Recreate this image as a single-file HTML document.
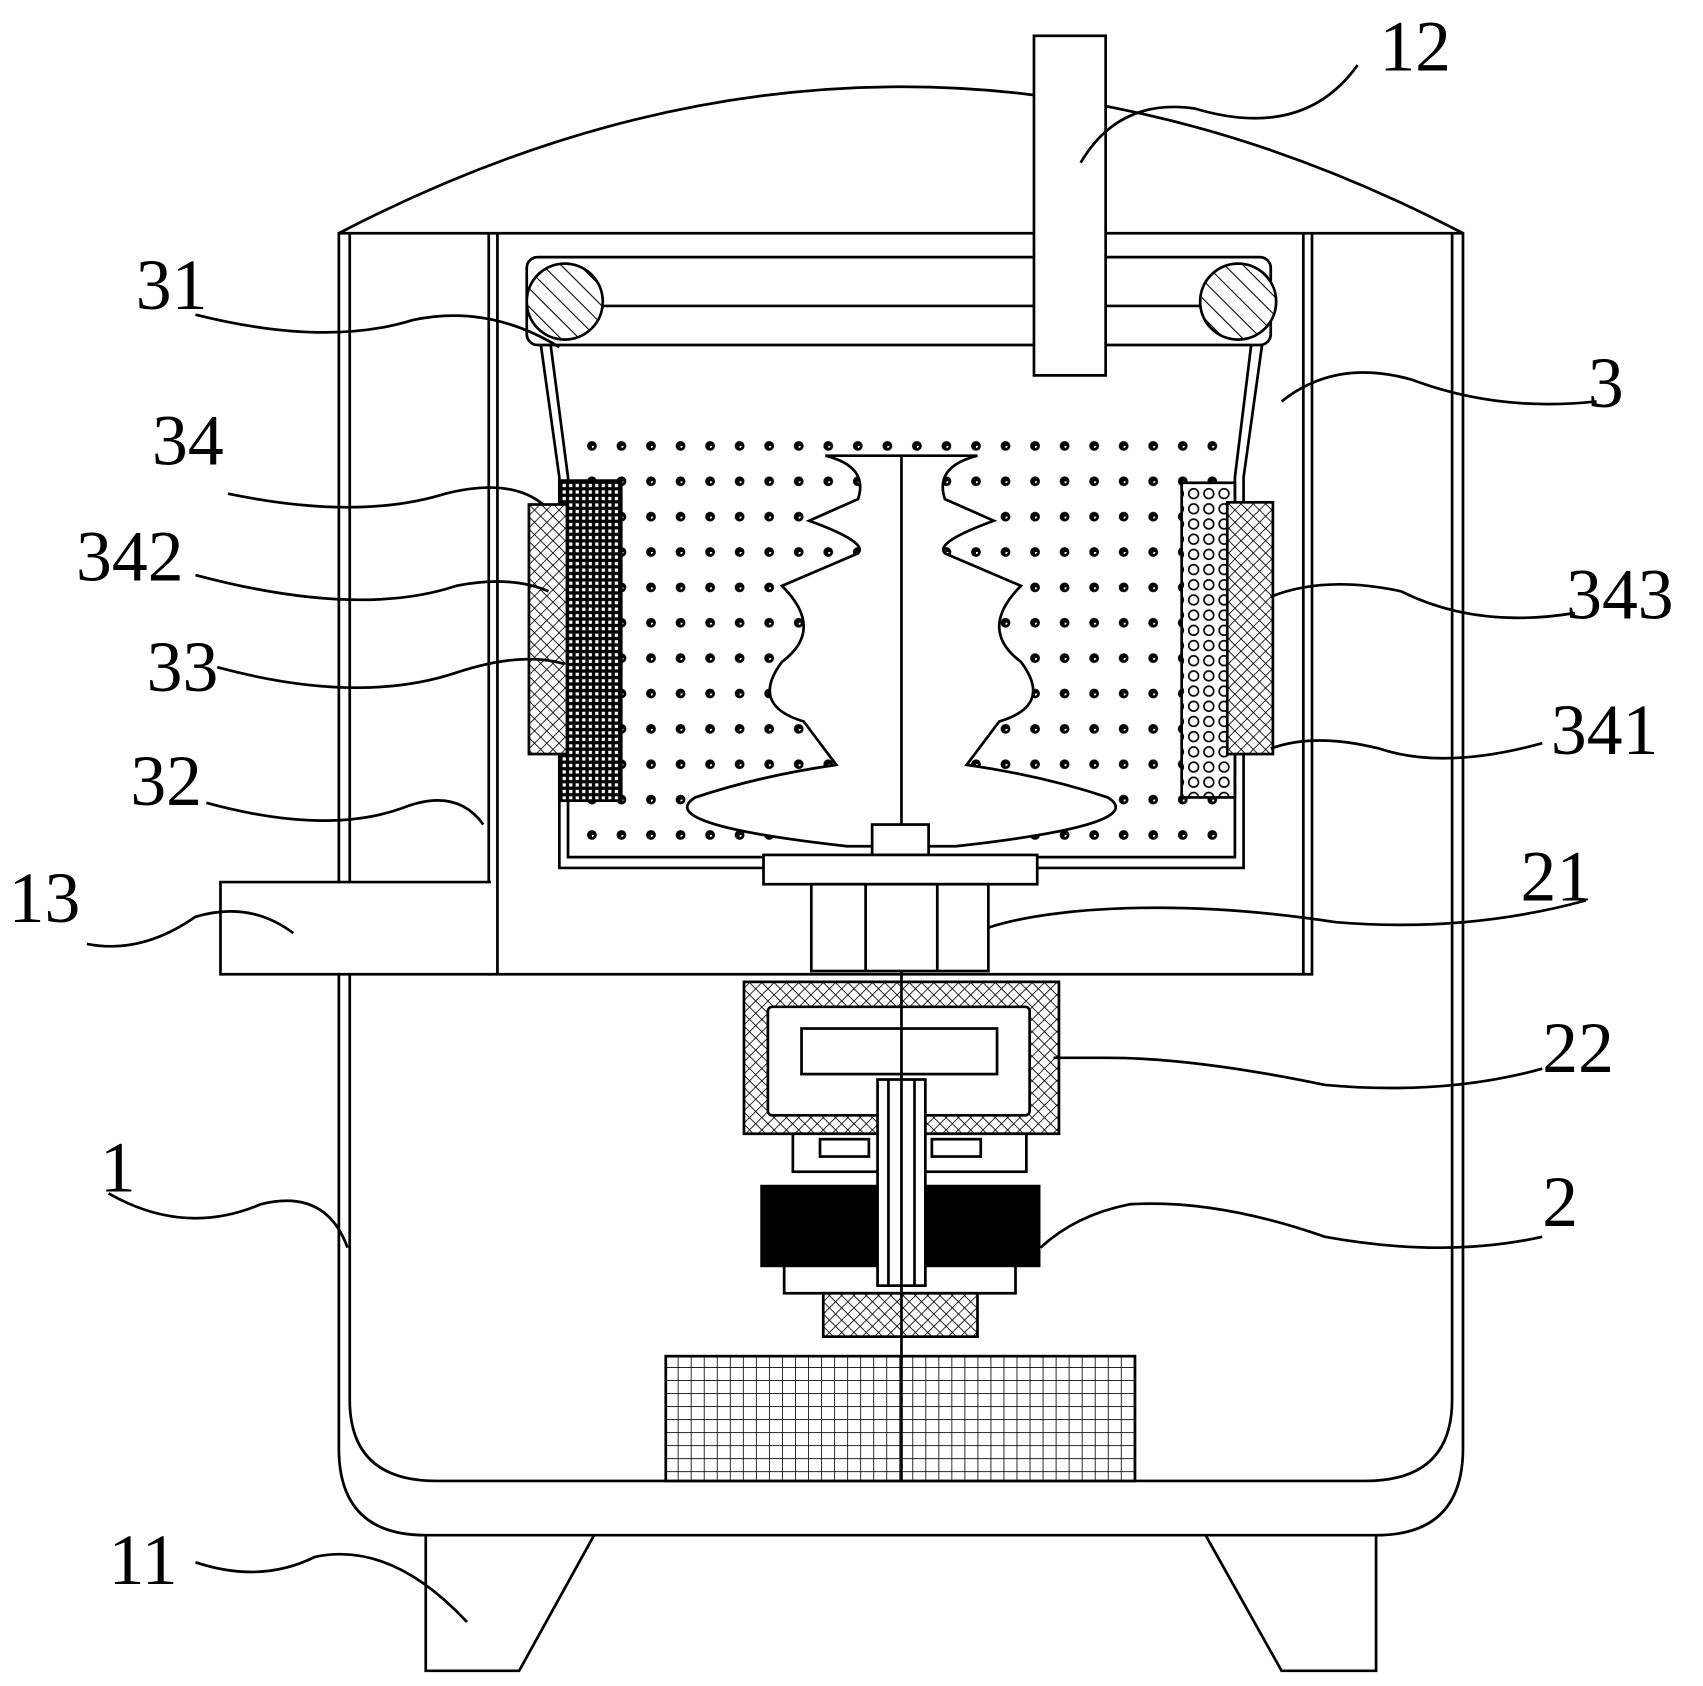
<!DOCTYPE html>
<html><head><meta charset="utf-8"><style>html,body{margin:0;padding:0;background:#fff}svg{display:block}</style></head><body>
<svg width="1703" height="1686" viewBox="0 0 1568 1554" preserveAspectRatio="none" xmlns="http://www.w3.org/2000/svg">
<defs>
<pattern id="hatch" width="12" height="12" patternUnits="userSpaceOnUse" patternTransform="rotate(-45)"><rect width="12" height="12" fill="#fff"/><line x1="0" y1="0" x2="0" y2="12" stroke="#000" stroke-width="2"/></pattern>
<pattern id="cross" width="8" height="8" patternUnits="userSpaceOnUse" patternTransform="rotate(45)"><rect width="8" height="8" fill="#fff"/><path d="M0 0V8M0 0H8" stroke="#000" stroke-width="1.5"/></pattern>
<pattern id="grid" width="12" height="12" patternUnits="userSpaceOnUse"><rect width="12" height="12" fill="#fff"/><path d="M0 0V12M0 0H12" stroke="#000" stroke-width="1.5"/></pattern>
<pattern id="dgrid" width="6" height="6" patternUnits="userSpaceOnUse"><rect width="6" height="6" fill="#000"/><rect x="2" y="2" width="3" height="3" fill="#fff"/></pattern>
<pattern id="circ" width="14" height="14" patternUnits="userSpaceOnUse"><rect width="14" height="14" fill="#fff"/><circle cx="7" cy="7" r="4.5" fill="none" stroke="#000" stroke-width="1.5"/></pattern>
<pattern id="dots" x="545" y="411" width="27.2" height="32.6" patternUnits="userSpaceOnUse"><circle cx="0" cy="0" r="4.5" fill="#000"/><circle cx="0" cy="0" r="2" fill="#fff"/><circle cx="27.2" cy="0" r="4.5" fill="#000"/><circle cx="0" cy="32.6" r="4.5" fill="#000"/><circle cx="27.2" cy="32.6" r="4.5" fill="#000"/></pattern>
</defs>
<g fill="none" stroke="#000" stroke-width="2.5">
<path d="M312 215 Q830 -55 1347 215"/>
<path d="M312 215 V1335 Q312 1415 392 1415 H1267 Q1347 1415 1347 1335 V215 Z"/>
<path d="M322 215 V1290 Q322 1365 402 1365 H1257 Q1337 1365 1337 1290 V215"/>
<path d="M392 1415 V1540 H478 L547 1415"/>
<path d="M1110 1415 L1180 1540 H1267 V1415"/>
<path d="M450 215 V898 H1208 V215"/>
<path d="M458 215 V898 M1200 215 V898"/>
<path d="M452 813 H203 V898 H452" fill="#fff"/>
<path d="M498 318 L515 440 V800 H1145 V440 L1162 318"/>
<path d="M507 318 L523 440 V790 H1137 V440 L1152 318"/>
<rect x="485" y="237" width="685" height="81" rx="10"/>
<line x1="520" y1="282" x2="1140" y2="282"/>
<circle cx="520" cy="278" r="35" fill="url(#hatch)"/>
<circle cx="1140" cy="278" r="35" fill="url(#hatch)"/>
<rect x="952" y="33" width="66" height="313" fill="#fff"/>
</g>
<rect x="540" y="405" width="585" height="370" fill="url(#dots)"/>
<g fill="#fff" stroke="#000" stroke-width="2.5">
<path d="M830 420 L760 420 Q800 430 790 460 L745 480 Q800 500 790 510 L720 540 Q760 580 720 610 Q690 650 740 665 L770 705 Q700 715 640 735 Q600 760 780 780 H880 Q1060 760 1020 735 Q960 715 890 705 L920 665 Q970 650 940 610 Q900 580 940 540 L870 510 Q860 500 915 480 L870 460 Q860 430 900 420 Z"/>
<line x1="830" y1="420" x2="830" y2="790"/>
<rect x="803" y="760" width="52" height="28"/>
<rect x="515" y="443" width="57" height="295" fill="url(#dgrid)"/>
<rect x="487" y="465" width="35" height="230" fill="url(#cross)"/>
<rect x="1088" y="445" width="49" height="290" fill="url(#circ)"/>
<rect x="1130" y="463" width="42" height="232" fill="url(#cross)"/>
<rect x="703" y="788" width="252" height="27"/>
<rect x="747" y="815" width="163" height="80"/>
<path d="M797 815 V895 M863 815 V895" fill="none"/>
<rect x="685" y="905" width="290" height="140" fill="url(#cross)"/>
<rect x="707" y="928" width="241" height="100" rx="4"/>
<rect x="738" y="948" width="180" height="42"/>
<rect x="730" y="1045" width="215" height="35"/>
<rect x="755" y="1050" width="45" height="16"/><rect x="858" y="1050" width="45" height="16"/>
<rect x="722" y="1162" width="213" height="30"/>
<rect x="758" y="1192" width="142" height="40" fill="url(#cross)"/>
<rect x="613" y="1250" width="432" height="115" fill="url(#grid)"/>
</g>
<rect x="700" y="1092" width="108" height="76" fill="#000"/>
<rect x="852" y="1092" width="106" height="76" fill="#000"/>
<g stroke="#000" stroke-width="2.5" fill="none">
<rect x="808" y="995" width="44" height="190" fill="#fff"/>
<line x1="818" y1="995" x2="818" y2="1185"/><line x1="842" y1="995" x2="842" y2="1185"/>
<line x1="830" y1="895" x2="830" y2="1365"/>
<path d="M1250 60 Q1200 130 1100 100 Q1030 90 995 150"/>
<path d="M180 290 Q300 320 380 295 Q450 280 515 320"/>
<path d="M1470 370 Q1380 380 1300 350 Q1230 330 1180 370"/>
<path d="M210 455 Q330 480 410 455 Q470 440 500 465"/>
<path d="M180 530 Q330 570 420 540 Q470 530 505 545"/>
<path d="M1450 565 Q1360 580 1290 545 Q1220 530 1170 550"/>
<path d="M200 615 Q330 650 420 620 Q480 600 520 612"/>
<path d="M1420 685 Q1330 710 1270 690 Q1210 675 1170 690"/>
<path d="M190 740 Q300 770 370 745 Q420 725 445 760"/>
<path d="M80 870 Q130 880 180 845 Q230 830 270 860"/>
<path d="M1460 830 Q1350 860 1230 850 Q1100 830 990 840 Q940 845 910 855"/>
<path d="M1420 985 Q1330 1010 1220 1000 Q1100 975 1020 975 Q990 975 970 975"/>
<path d="M100 1100 Q170 1140 240 1110 Q300 1095 320 1150"/>
<path d="M1420 1140 Q1330 1160 1220 1140 Q1120 1105 1040 1110 Q990 1120 958 1150"/>
<path d="M180 1440 Q240 1460 290 1435 Q360 1420 430 1495"/>
</g>
<g font-family="Liberation Serif, serif" font-size="66" fill="#000">
<text x="1270" y="65">12</text>
<text x="125" y="285">31</text>
<text x="1462" y="375">3</text>
<text x="140" y="428">34</text>
<text x="70" y="535">342</text>
<text x="1442" y="570">343</text>
<text x="135" y="637">33</text>
<text x="1428" y="695">341</text>
<text x="120" y="742">32</text>
<text x="8" y="850">13</text>
<text x="1400" y="830">21</text>
<text x="1420" y="988">22</text>
<text x="92" y="1098">1</text>
<text x="1420" y="1130">2</text>
<text x="100" y="1460">11</text>
</g>
</svg>
</body></html>
